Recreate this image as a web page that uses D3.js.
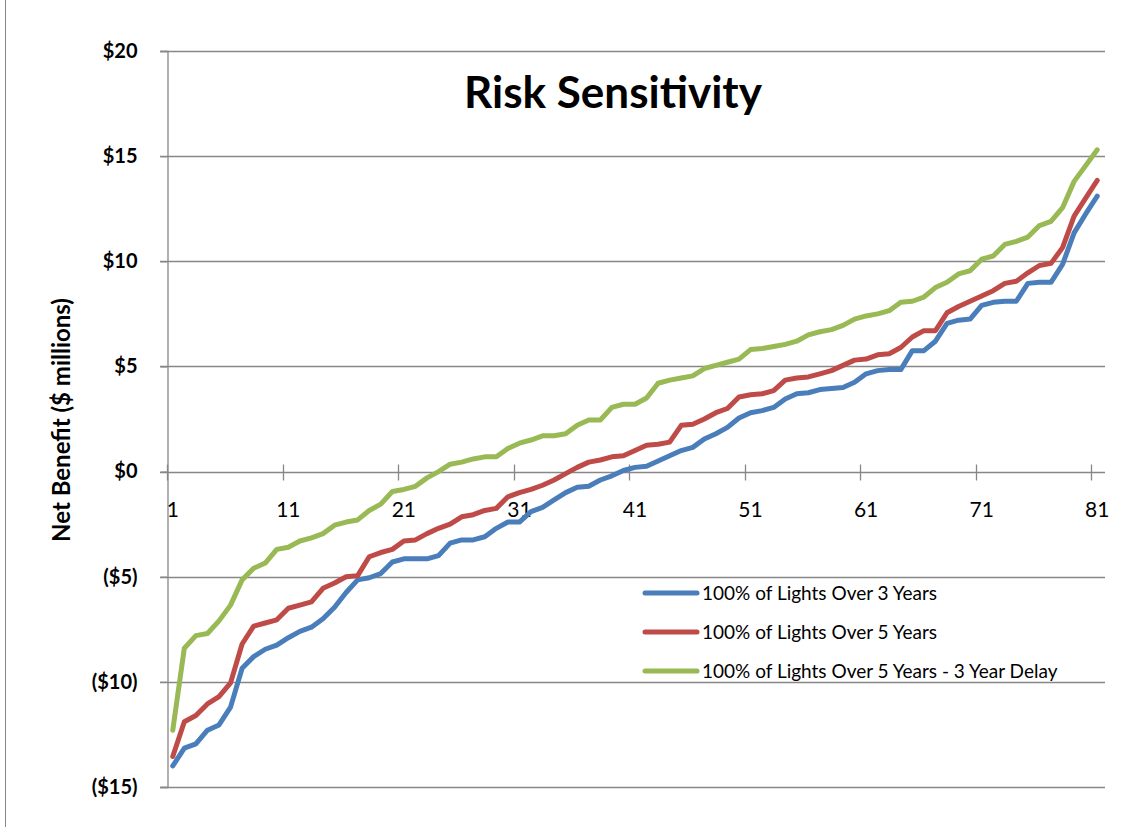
<!DOCTYPE html>
<html>
<head>
<meta charset="utf-8">
<script src="https://cdn.jsdelivr.net/npm/d3@7"></script>
<style>
  html, body { margin: 0; padding: 0; background: #fff; }
  svg { display: block; font-family: Lato, "Open Sans", sans-serif; }
</style>
</head>
<body>
<svg id="chart" width="1147" height="827"></svg>
<script>
// Scenario index (x categories)
const categories = d3.range(1, 82);
const xTickLabels = [1, 11, 21, 31, 41, 51, 61, 71, 81];
const yTickValues = [-15, -10, -5, 0, 5, 10, 15, 20];

const seriesNames = [
  "100% of Lights Over 3 Years",
  "100% of Lights Over 5 Years",
  "100% of Lights Over 5 Years - 3 Year Delay"
];
const seriesColors = ["#4A7EBB", "#BE4B48", "#98B954"];

// Net benefit, $ millions, sorted ascending per scenario
const over3Years = [
  -14.0, -13.15, -12.95, -12.3, -12.05, -11.2, -9.35, -8.8, -8.45, -8.25,
  -7.9, -7.6, -7.4, -7.0, -6.45, -5.75, -5.15, -5.05, -4.85, -4.3,
  -4.15, -4.15, -4.15, -4.0, -3.4, -3.25, -3.25, -3.1, -2.7, -2.4,
  -2.4, -1.9, -1.7, -1.35, -1.0, -0.75, -0.7, -0.4, -0.2, 0.05,
  0.2, 0.25, 0.5, 0.75, 1.0, 1.15, 1.55, 1.8, 2.1, 2.55,
  2.8, 2.9, 3.05, 3.45, 3.7, 3.75, 3.9, 3.95, 4.0, 4.25,
  4.65, 4.8, 4.85, 4.85, 5.75, 5.75, 6.2, 7.05, 7.2, 7.25,
  7.9, 8.05, 8.1, 8.1, 8.95, 9.0, 9.0, 9.85, 11.35, 12.25,
  13.1
];
const over5Years = [
  -13.55, -11.9, -11.6, -11.05, -10.7, -10.05, -8.2, -7.35, -7.2, -7.05,
  -6.5, -6.35, -6.2, -5.55, -5.3, -5.0, -4.95, -4.05, -3.85, -3.7,
  -3.3, -3.25, -2.95, -2.7, -2.5, -2.15, -2.05, -1.85, -1.75, -1.2,
  -1.0, -0.85, -0.65, -0.4, -0.1, 0.2, 0.45, 0.55, 0.7, 0.75,
  1.0, 1.25, 1.3, 1.4, 2.2, 2.25, 2.5, 2.8, 3.0, 3.55,
  3.65, 3.7, 3.85, 4.35, 4.45, 4.5, 4.65, 4.8, 5.05, 5.3,
  5.35, 5.55, 5.6, 5.9, 6.4, 6.7, 6.7, 7.55, 7.85, 8.1,
  8.35, 8.6, 8.95, 9.05, 9.45, 9.8, 9.9, 10.65, 12.15, 13.0,
  13.85
];
const over5YearsDelay = [
  -12.3, -8.4, -7.8, -7.7, -7.1, -6.35, -5.15, -4.6, -4.35, -3.7,
  -3.6, -3.3, -3.15, -2.95, -2.55, -2.4, -2.3, -1.85, -1.55, -0.95,
  -0.85, -0.7, -0.3, 0.0, 0.35, 0.45, 0.6, 0.7, 0.7, 1.1,
  1.35, 1.5, 1.7, 1.7, 1.8, 2.2, 2.45, 2.45, 3.05, 3.2,
  3.2, 3.5, 4.2, 4.35, 4.45, 4.55, 4.9, 5.05, 5.2, 5.35,
  5.8, 5.85, 5.95, 6.05, 6.2, 6.5, 6.65, 6.75, 6.95, 7.25,
  7.4, 7.5, 7.65, 8.05, 8.1, 8.3, 8.75, 9.0, 9.4, 9.55,
  10.1, 10.25, 10.8, 10.95, 11.15, 11.7, 11.9, 12.55, 13.8, 14.55,
  15.3
];

const seriesValues = [over3Years, over5Years, over5YearsDelay];

const svg = d3.select("#chart");
const gridColor = "#878787";

// outer chart frame
svg.append("line").attr("x1", 5.5).attr("x2", 5.5).attr("y1", 0).attr("y2", 827)
  .attr("stroke", gridColor).attr("stroke-width", 1);

const plotLeft = 167, plotRight = 1103, plotTop = 51, plotBottom = 787;

// category slots: each scenario occupies a unit slot centred on its index
const x = d3.scaleLinear().domain([0.5, 81.5]).range([plotLeft, plotRight]);
const y = d3.scaleLinear().domain([-15, 20]).range([plotBottom, plotTop]);

const money = v => v < 0 ? `($${Math.abs(v)})` : `$${v}`;

// horizontal gridlines
svg.append("g")
  .selectAll("line")
  .data(yTickValues)
  .join("line")
  .attr("x1", plotLeft - 7)
  .attr("x2", plotRight + 2)
  .attr("y1", d => Math.round(y(d)) + 0.5)
  .attr("y2", d => Math.round(y(d)) + 0.5)
  .attr("stroke", gridColor)
  .attr("stroke-width", 1.3);

// y axis
const yAxis = svg.append("g")
  .attr("transform", `translate(${plotLeft + 0.5},0)`)
  .call(d3.axisLeft(y).tickValues(yTickValues).tickFormat(money).tickSize(7).tickPadding(23));
yAxis.select(".domain").attr("stroke", gridColor).attr("stroke-width", 1.3);
yAxis.selectAll(".tick line").attr("stroke", gridColor).attr("stroke-width", 1.3);
yAxis.selectAll(".tick text")
  .attr("font-family", "Lato, sans-serif")
  .attr("font-size", 20)
  .attr("font-weight", "bold")
  .attr("fill", "#000");

// x axis along zero, ticks at slot boundaries crossing the line
const zeroY = Math.round(y(0)) + 0.5;
const xAxis = svg.append("g");
xAxis.selectAll("line.tick")
  .data(xTickLabels)
  .join("line")
  .attr("class", "tick")
  .attr("x1", d => Math.round(x(d - 0.5)) + 0.5)
  .attr("x2", d => Math.round(x(d - 0.5)) + 0.5)
  .attr("y1", zeroY - 8)
  .attr("y2", zeroY + 8)
  .attr("stroke", gridColor)
  .attr("stroke-width", 1.3);
xAxis.selectAll("text")
  .data(xTickLabels)
  .join("text")
  .attr("x", d => x(d))
  .attr("y", zeroY + 44)
  .attr("text-anchor", "middle")
  .attr("font-size", 21)
  .attr("fill", "#000")
  .text(d => d);

// series lines
const line = d3.line()
  .x((d, i) => x(categories[i]))
  .y(d => y(d));

svg.append("g")
  .selectAll("path")
  .data(seriesValues)
  .join("path")
  .attr("d", d => line(d))
  .attr("fill", "none")
  .attr("stroke", (d, i) => seriesColors[i])
  .attr("stroke-width", 5)
  .attr("stroke-linejoin", "round")
  .attr("stroke-linecap", "round");

// title
svg.append("text")
  .attr("x", 613)
  .attr("y", 108)
  .attr("text-anchor", "middle")
  .attr("font-size", 44)
  .attr("font-weight", "bold")
  .attr("fill", "#000")
  .text("Risk Sensitivity");

// y axis title
svg.append("text")
  .attr("transform", "translate(70,420) rotate(-90)")
  .attr("text-anchor", "middle")
  .attr("font-size", 24)
  .attr("font-weight", "bold")
  .attr("fill", "#000")
  .text("Net Benefit ($ millions)");

// legend
const legend = svg.append("g")
  .selectAll("g")
  .data(seriesNames)
  .join("g")
  .attr("transform", (d, i) => `translate(643,${593 + i * 39})`);
legend.append("line")
  .attr("x1", 2).attr("x2", 54)
  .attr("y1", 0).attr("y2", 0)
  .attr("stroke", (d, i) => seriesColors[i])
  .attr("stroke-width", 5)
  .attr("stroke-linecap", "round");
legend.append("text")
  .attr("x", 59)
  .attr("y", 7)
  .attr("font-size", 19)
  .attr("fill", "#000")
  .text(d => d);
</script>
</body>
</html>
